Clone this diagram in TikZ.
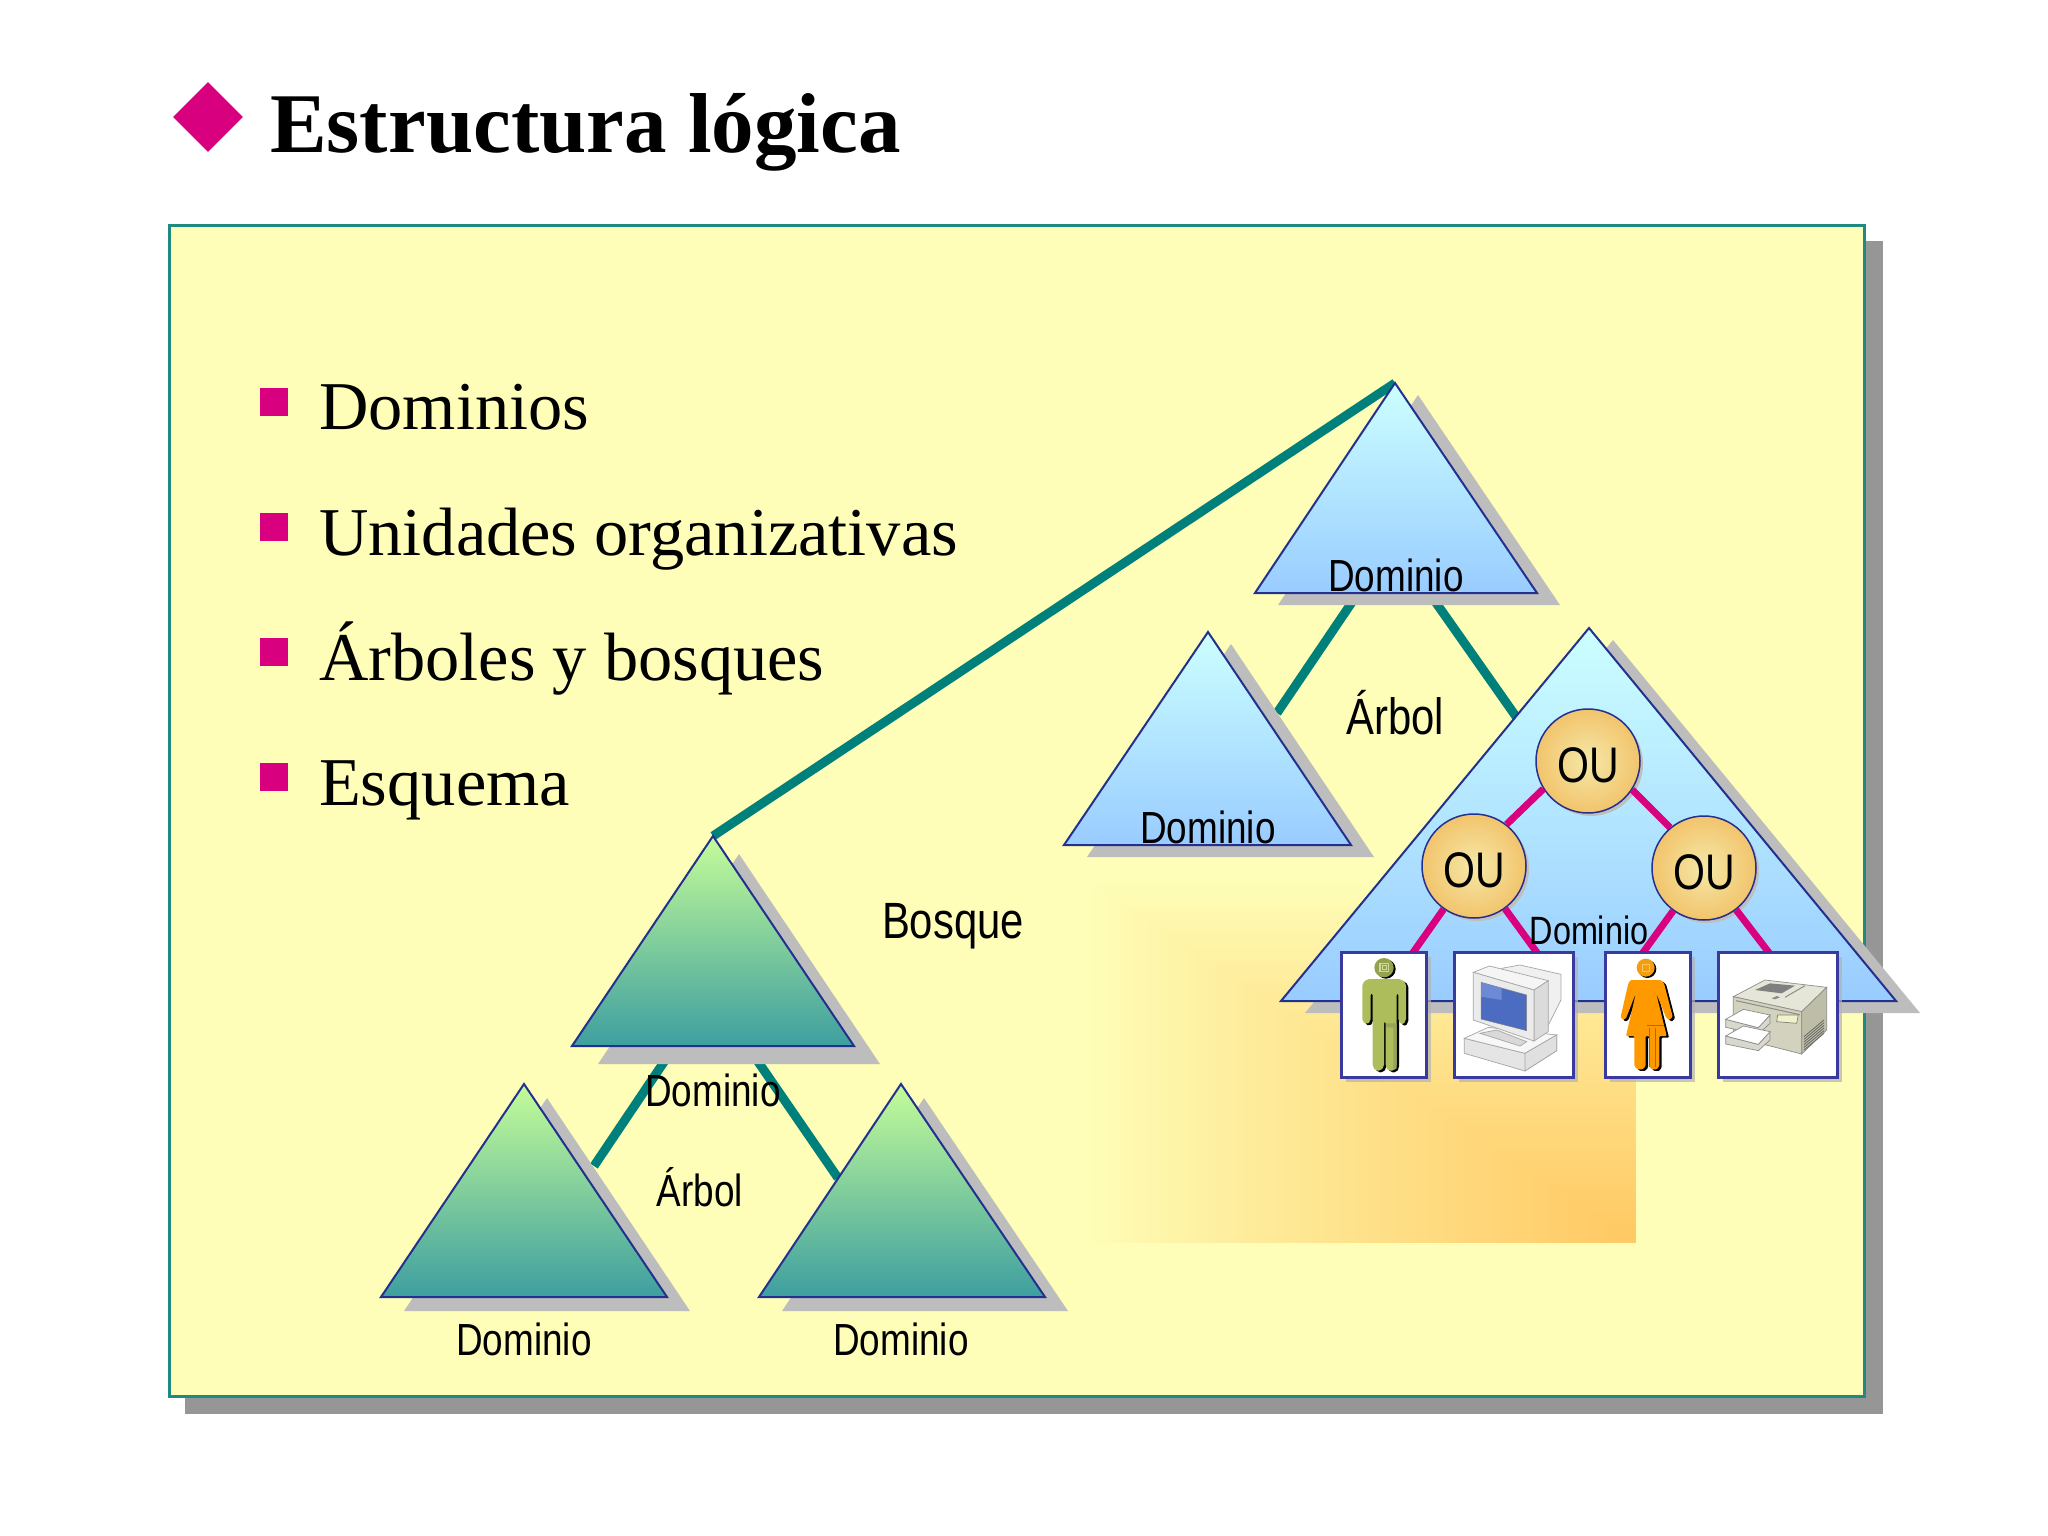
\documentclass[tikz,border=0pt]{standalone}
\usepackage{fontspec}
\usetikzlibrary{shapes.geometric}
\setmainfont{Liberation Serif}
\newfontfamily\lab[FakeStretch=0.82]{Liberation Sans}
\definecolor{panel}{HTML}{FEFEB8}
\definecolor{panelline}{HTML}{1F8A80}
\definecolor{panelshadow}{HTML}{969696}
\definecolor{trishadow}{HTML}{BDBDBD}
\definecolor{magentaB}{HTML}{D9007F}
\definecolor{teal2}{HTML}{00807A}
\definecolor{navy2}{HTML}{23308F}
\definecolor{boxline}{HTML}{3A3A9E}
\definecolor{gradend}{HTML}{FFC862}
\definecolor{olive2}{HTML}{AEBD5B}
\definecolor{orange2}{HTML}{FF9900}
\definecolor{screenA}{HTML}{4B6CC0}
\definecolor{screenB}{HTML}{6E8AD6}
\definecolor{bluetop}{HTML}{CCFFFF}
\definecolor{bluebot}{HTML}{99CCFF}
\definecolor{greentop}{HTML}{C4FC98}
\definecolor{greenbot}{HTML}{3E9FA0}
\definecolor{oucen}{HTML}{F5E8A8}
\definecolor{ouedge}{HTML}{F2C46C}
\definecolor{prtop}{HTML}{E6E6D8}
\definecolor{prfront}{HTML}{D2D2BE}
\definecolor{prside}{HTML}{BEBEA8}
\definecolor{prkey}{HTML}{F2F2C8}
\definecolor{prtray}{HTML}{D8D8CC}
\tikzset{
  x=1pt,y=-1pt,
  tlink/.style={draw=teal2,line width=9pt},
  mlink/.style={draw=magentaB,line width=7pt},
  blue tri/.style={draw=navy2,line width=2pt,top color=bluetop,bottom color=bluebot,shading=axis},
  green tri/.style={draw=navy2,line width=2pt,top color=greentop,bottom color=greenbot,shading=axis},
  shadow tri/.style={fill=trishadow},
  lab45/.style={font=\lab\fontsize{45}{50}\selectfont,inner sep=0pt,text=black},
  lab39/.style={font=\lab\fontsize{39.5}{44}\selectfont,inner sep=0pt,text=black},
  lab50/.style={font=\lab\fontsize{51}{56}\selectfont,inner sep=0pt,text=black},
  ounode/.style={circle,minimum size=104pt,inner sep=0pt,draw=navy2,line width=1.5pt,inner color=oucen,outer color=ouedge,font=\lab\fontsize{50}{54}\selectfont},
  iconbox/.style={draw=boxline,line width=3pt,fill=white},
  boxshadow/.style={fill=black!30,opacity=.7},
  bullet/.style={fill=magentaB},
  bullettext/.style={anchor=base west,inner sep=0pt,font=\fontsize{68.4}{72}\selectfont},
  cpu/.style={draw=black!35,line width=.7pt,fill=black!8},
  prn/.style={draw=black!45,line width=.7pt,fill=#1},
}
% name, apex x, apex y, left x, right x, base y, style, shadow dx, shadow dy
\newcommand{\domtri}[9]{%
  \fill[shadow tri] ({#2+#8},{#3+#9}) -- ({#4+#8},{#6+#9}) -- ({#5+#8},{#6+#9}) -- cycle;
  \path[#7] (#2,#3) coordinate (#1) -- (#4,#6) -- (#5,#6) -- cycle;
}
\newcommand{\outext}{\raisebox{-21pt}[0pt][0pt]{OU}}
\begin{document}
\begin{tikzpicture}
\useasboundingbox[fill=white] (0,0) rectangle (2048,1536);
% title
\node[fill=magentaB,diamond,shape aspect=1,minimum size=70pt,inner sep=0pt] (dia) at (208,117) {};
\node[anchor=base west,inner sep=0pt,font=\bfseries\fontsize{85}{90}\selectfont] (title) at (270,153) {Estructura lógica};
% panel
\fill[panelshadow] (185,241) rectangle (1883,1414);
\draw[fill=panel,draw=panelline,line width=3pt] (169,225) rectangle (1864,1396);
% glow
\foreach \i in {0,...,80}{
  \pgfmathsetmacro{\t}{\i/80}
  \pgfmathsetmacro{\p}{100*pow(\t,0.9)}
  \fill[gradend!\p!panel] ({1085+551*\t},{880+363*\t}) rectangle (1636,1243);
}
% bullets
\foreach \yy in {403,528,653,778}{ \fill[bullet] (260,{\yy-15}) rectangle (288,{\yy+13}); }
\node[bullettext] (b1) at (319,429) {Dominios};
\node[bullettext] (b2) at (319,555) {Unidades organizativas};
\node[bullettext] (b3) at (319,680) {Árboles y bosques};
\node[bullettext] (b4) at (319,805) {Esquema};
% connector ends
\coordinate (topL) at (1367,580); \coordinate (midC) at (1277,713);
\coordinate (topR) at (1420,580); \coordinate (bigC) at (1517,718);
\coordinate (rootL) at (672,1050); \coordinate (llC) at (594,1166);
\coordinate (rootR) at (750,1050); \coordinate (lrC) at (838,1178);
\coordinate (topA) at (1395,383); \coordinate (rootA) at (713,836);
\draw[tlink] (topA) -- (rootA);
\draw[tlink] (topL) -- (midC);
\draw[tlink] (topR) -- (bigC);
\draw[tlink] (rootL) -- (llC);
\draw[tlink] (rootR) -- (lrC);
% triangles
\domtri{t1}{1395}{383}{1255}{1537}{593}{blue tri}{23}{12}
\domtri{t2}{1208}{632}{1064}{1351}{845}{blue tri}{23}{12}
\domtri{t3}{1589}{628}{1281}{1896}{1001}{blue tri}{24}{12}
\domtri{t4}{713}{836}{572}{854}{1046}{green tri}{26}{18}
\domtri{t5}{524}{1084}{381}{667}{1297}{green tri}{23}{14}
\domtri{t6}{901}{1084}{759}{1045}{1297}{green tri}{23}{14}
% OU
\fill[black!25] (1591,764) circle (52);
\fill[black!25] (1477,869) circle (52);
\fill[black!25] (1707,871) circle (52);
\node[ounode] (ou1) at (1588,761) {\outext};
\node[ounode] (ou2) at (1474,866) {\outext};
\node[ounode] (ou3) at (1704,868) {\outext};
\coordinate (e1) at (1412,954); \coordinate (e2) at (1538,954);
\coordinate (e3) at (1642,954); \coordinate (e4) at (1770,954);
\draw[mlink] (ou1.212) -- (ou2.52);
\draw[mlink] (ou1.327) -- (ou3.130);
\draw[mlink] (ou2) -- (e1);
\draw[mlink] (ou2) -- (e2);
\draw[mlink] (ou3) -- (e3);
\draw[mlink] (ou3) -- (e4);
% icon boxes
\foreach \a/\b in {1341/1426,1454/1573,1605/1690,1718/1837}{
  \fill[boxshadow] ({\a+5},957) rectangle ({\b+5},1082);
  \draw[iconbox] (\a,952) rectangle (\b,1077);
}
% man
\begin{scope}[shift={(1330,940)},x=.3333pt,y=-.3333pt]
  \def\manpath{(97,130) -- (112,117) -- (213,117) -- (228,130) -- (228,243) -- (217,254) -- (205,243) -- (205,160) -- (200,160) -- (200,380) -- (192,392) -- (175,392) -- (167,380) -- (167,245) -- (162,245) -- (162,380) -- (152,392) -- (137,392) -- (128,380) -- (128,160) -- (122,160) -- (122,243) -- (110,254) -- (97,243) -- cycle}
  \fill[black,shift={(7,5)},rounded corners=2pt] \manpath;
  \fill[olive2,rounded corners=2pt] \manpath;
  \fill[black] (168,87) circle (29);
  \fill[olive2!85!black] (162,83) circle (29);
  \draw[olive2!60!white,line width=1.2pt] (150,70) rectangle (175,95);
  \draw[olive2!60!white,line width=.8pt] (157,77) rectangle (168,88);
  \fill[olive2!80!black!90] (168,250) -- (200,250) -- (200,385) -- (190,390) -- (190,262) -- (168,262) -- cycle;
\end{scope}
% computer
\begin{scope}[shift={(1330,940)},x=.3333pt,y=-.3333pt]
  \path[cpu,fill=black!6] (515,85) -- (570,75) -- (693,103) -- (693,180) -- (655,255) -- (600,200) -- cycle;
  \path[cpu,fill=black!10] (403,295) -- (403,340) -- (585,393) -- (680,332) -- (680,285) -- (585,340) -- cycle;
  \path[cpu,fill=black!3] (403,295) -- (475,262) -- (680,285) -- (585,340) -- cycle;
  \path[cpu,fill=black!12] (585,340) -- (585,393) -- (680,332) -- (680,285) -- cycle;
  \path[cpu,fill=black!15] (450,280) -- (500,270) -- (590,305) -- (570,318) -- cycle;
  \path[cpu,fill=black!4] (430,97) -- (478,78) -- (655,122) -- (612,150) -- cycle;
  \path[cpu,fill=black!14] (612,150) -- (655,122) -- (655,275) -- (612,303) -- cycle;
  \path[cpu,fill=black!8] (430,97) -- (612,150) -- (612,303) -- (430,240) -- cycle;
  \path[draw=black!50,line width=.5pt,fill=screenA] (453,127) -- (590,165) -- (590,272) -- (453,237) -- cycle;
  \fill[screenB] (453,127) -- (515,144) -- (515,180) -- (453,170) -- cycle;
\end{scope}
% woman
\begin{scope}[shift={(1600,940)},x=.3333pt,y=-.3333pt]
  \def\wompath{(92,120) -- (182,120) -- (192,130) -- (218,230) -- (208,240) -- (198,232) -- (168,158) -- (200,288) -- (178,288) -- (178,378) -- (170,388) -- (155,388) -- (147,378) -- (147,288) -- (137,288) -- (137,378) -- (128,388) -- (112,388) -- (103,378) -- (103,288) -- (78,288) -- (108,158) -- (78,235) -- (68,240) -- (62,230) -- (85,130) -- cycle}
  \fill[black,shift={(7,5)},rounded corners=1pt] \wompath;
  \fill[orange2,rounded corners=1pt] \wompath;
  \fill[black] (142,87) circle (27);
  \fill[orange2!85!olive2] (137,83) circle (27);
  \draw[orange2!60!white,line width=1pt] (127,73) rectangle (147,93);
  \draw[orange2!70!black,line width=1pt] (140,255) -- (192,255) (148,265) -- (148,380) (165,265) -- (165,380);
\end{scope}
% printer
\begin{scope}[shift={(1600,940)},x=.3333pt,y=-.3333pt]
  \path[prn=prtop] (400,170) -- (495,120) -- (680,142) -- (605,215) -- cycle;
  \path[prn=prfront] (400,170) -- (605,215) -- (605,342) -- (400,290) -- cycle;
  \path[prn=prside] (605,215) -- (680,142) -- (680,270) -- (605,342) -- cycle;
  \fill[black!50] (465,150) -- (510,130) -- (585,137) -- (545,160) -- cycle;
  \draw[black!45,line width=1pt] (555,172) -- (615,137) (408,182) -- (600,224);
  \fill[black!45] (515,175) -- (530,168) -- (540,172) -- (525,178) -- cycle;
  \path[prn=prkey,draw=black!50] (533,225) -- (595,225) -- (590,250) -- (530,245) -- cycle;
  \foreach \o in {0,50}{
    \path[prn=prtray,shift={(0,\o)}] (377,238) -- (377,262) -- (475,282) -- (510,250) -- (510,225) -- (475,263) -- cycle;
    \path[prn=white,shift={(0,\o)}] (377,238) -- (430,208) -- (510,225) -- (475,263) -- cycle;
  }
  \foreach \o in {0,8,...,40}{ \draw[black!60,line width=.8pt] (612,{290+\o}) -- (672,{240+\o}); }
\end{scope}
% labels
\node[lab45] (d1) at (1396,575) {Dominio};
\node[lab45] (d2) at (1208,827) {Dominio};
\node[lab45] (d4) at (713,1090) {Dominio};
\node[lab45] (d5) at (524,1339) {Dominio};
\node[lab45] (d6) at (901,1339) {Dominio};
\node[lab39] (d3) at (1589,930) {Dominio};
\node[lab50] (a1) at (1395,713) {Árbol};
\node[lab45] (a2) at (700,1187) {Árbol};
\node[lab50] (bo) at (953,926) {Bosque};
\end{tikzpicture}
\end{document}
